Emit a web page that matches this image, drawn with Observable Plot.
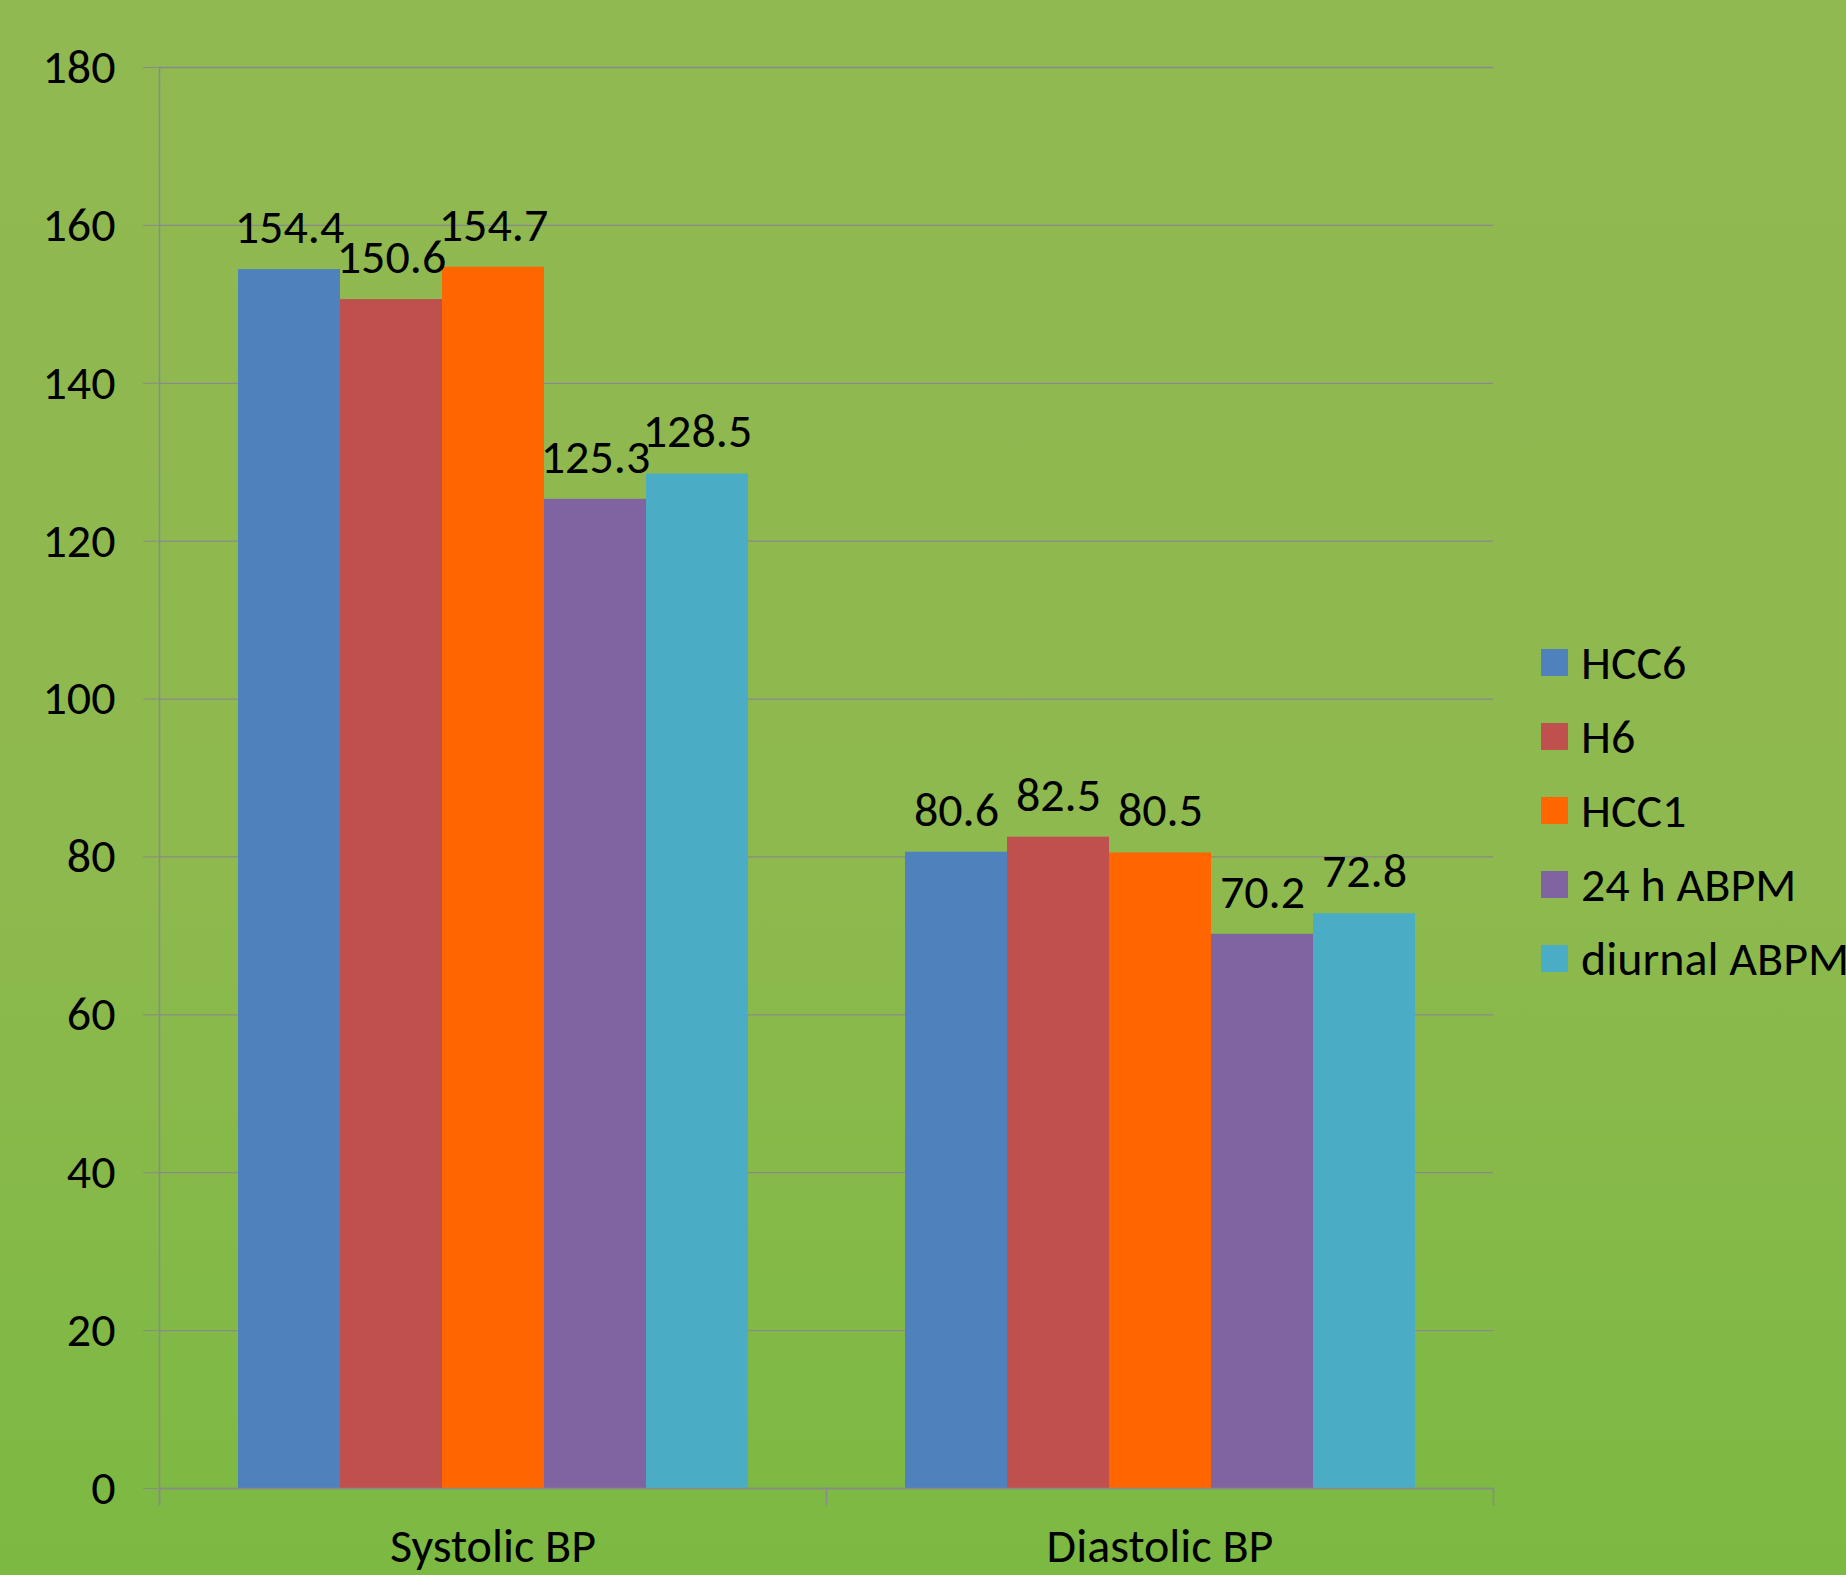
<!DOCTYPE html>
<html><head><meta charset="utf-8">
<script src="https://cdn.jsdelivr.net/npm/d3@7"></script>
<script src="https://cdn.jsdelivr.net/npm/@observablehq/plot@0.6"></script>
<style>
html,body{margin:0;padding:0;width:1846px;height:1575px;overflow:hidden;}
body{background:linear-gradient(180deg,#90b951 0%,#8eb94e 55%,#7cb942 100%);font-family:Carlito,Lato,sans-serif;}
#wrap{position:relative;width:1846px;height:1575px;}
#legend{position:absolute;left:1541px;top:625px;width:500px;}
#legend .lg-swatch{height:74px;display:flex;align-items:center;padding:0 !important;margin:0 !important;}
#legend .lg-swatch svg{margin-right:13px !important;}
#legend .lg-swatch > div, #legend .lg-swatch span{overflow:visible !important;white-space:nowrap;}
</style></head>
<body><div id="wrap"></div>
<script>
const categories = ["Systolic BP", "Diastolic BP"];
const series = ["HCC6", "H6", "HCC1", "24 h ABPM", "diurnal ABPM"];
const systolic = [154.4, 150.6, 154.7, 125.3, 128.5];
const diastolic = [80.6, 82.5, 80.5, 70.2, 72.8];
const colors = ["#4f81bd", "#c0504d", "#ff6600", "#8064a2", "#4bacc6"];
const yTicks = [0, 20, 40, 60, 80, 100, 120, 140, 160, 180];

const data = [];
series.forEach((s, i) => {
  data.push({cat: categories[0], series: s, value: systolic[i]});
  data.push({cat: categories[1], series: s, value: diastolic[i]});
});

const W = 1846, H = 1575, mT = 67, mB = 87, mL = 159, mR = 353;
const innerH = H - mT - mB;
const gray = "#8a8a8a";
const font = "Carlito, Lato, sans-serif";
const fs = 48;

const plot = Plot.plot({
  width: W, height: H,
  marginTop: mT, marginBottom: mB, marginLeft: mL, marginRight: mR,
  style: {background: "transparent", fontFamily: font, fontSize: fs + "px", color: "#000"},
  fx: {domain: categories, padding: 0, label: null},
  x: {domain: series, paddingInner: 0, paddingOuter: 0.75, axis: null},
  y: {domain: [0, 180], axis: null},
  color: {domain: series, range: colors},
  marks: [
    Plot.gridY(yTicks, {stroke: gray, strokeOpacity: 1, strokeWidth: 1.3}),
    Plot.axisY(yTicks, {tickSize: 16, tickPadding: 28, stroke: gray, strokeOpacity: 1, fontSize: fs, fill: "#000", label: null, tickFormat: d => d}),
    Plot.barY(data, {fx: "cat", x: "series", y: "value", fill: "series"}),
    Plot.ruleY([0], {stroke: gray, strokeWidth: 1.5}),
    Plot.frame({anchor: "left", facetAnchor: "left", stroke: gray, strokeWidth: 1.5, insetBottom: -16}),
    Plot.frame({anchor: "left", stroke: gray, strokeWidth: 1.5, insetTop: innerH, insetBottom: -16}),
    Plot.frame({anchor: "right", facetAnchor: "right", stroke: gray, strokeWidth: 1.5, insetTop: innerH, insetBottom: -16}),
    Plot.text(data, {fx: "cat", x: "series", y: "value", text: d => d.value.toFixed(1), lineAnchor: "middle", dy: -42, fontSize: fs, fill: "#000"}),
    Plot.axisFx({anchor: "bottom", tickSize: 0, tickPadding: 39, fontSize: fs, fill: "#000", label: null})
  ]
});
document.getElementById("wrap").appendChild(plot);

const legend = plot.legend("color", {
  legend: "swatches", columns: 1, swatchSize: 27, className: "lg",
  style: {fontSize: fs + "px", fontFamily: font, color: "#000", background: "transparent"}
});
const ld = document.createElement("div");
ld.id = "legend";
ld.appendChild(legend);
document.getElementById("wrap").appendChild(ld);
</script>
</body></html>
